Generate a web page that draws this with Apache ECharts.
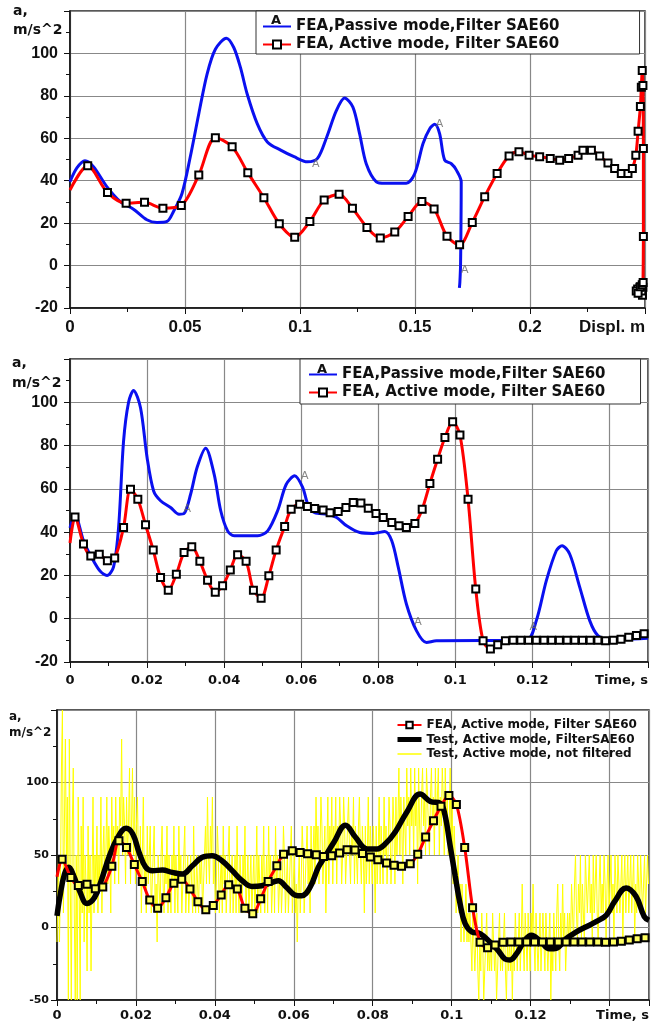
<!DOCTYPE html>
<html>
<head>
<meta charset="utf-8">
<script src="https://cdn.jsdelivr.net/npm/echarts@6/dist/echarts.min.js"></script>
<style>html,body{margin:0;padding:0;background:#fff}#c{width:652px;height:1023px}</style>
</head>
<body>
<div id="c"></div>
<script>
// ---------- Panel 1 : acceleration vs displacement ----------
const p1BlueD = [0,0.003,0.0065,0.0102,0.016,0.0218,0.0276,0.0334,0.0378,0.0422,0.045,0.0487,0.0523,0.056,0.0596,0.0632,0.068,0.0712,0.0741,0.077,0.0814,0.0858,0.0916,0.0974,0.1032,0.1076,0.1116,0.1158,0.1194,0.123,0.1259,0.1288,0.1332,0.137,0.1462,0.1499,0.1535,0.1564,0.1586,0.1607,0.1629,0.1658,0.168,0.1701,0.1700,0.1698,0.1695,0.1693];
const p1BlueA = [39.5,46,49.4,46.6,37.2,30.2,26.6,21.6,20.3,20.8,25.5,34,51.3,71.6,90.3,102,107.2,102.8,93.4,81,66.9,58.3,54.4,51.3,48.9,50.5,60.5,73,79,74.7,62.2,48,39.5,38.8,38.8,43.4,57.5,64.5,66.6,62.2,49.7,48,45,39.5,20,0,-8,-10.5];
const p1RedD = [0,0.0077,0.0163,0.0244,0.0324,0.0404,0.0484,0.056,0.0632,0.0705,0.0773,0.0843,0.091,0.0977,0.1043,0.1105,0.117,0.1228,0.1291,0.1349,0.1412,0.147,0.153,0.1583,0.1639,0.1694,0.1749,0.1803,0.1857,0.1909,0.1952,0.1996,0.2042,0.2088,0.2129,0.2168,0.2209,0.223,0.2267,0.2303,0.2339,0.2368,0.2397,0.2426,0.2445,0.246,0.247,0.248,0.2484,0.2488,0.2491,0.2493,0.2493,0.2491,0.2489,0.2486,0.2478,0.2468,0.2462,0.2470,0.2480,0.2488,0.2492];
const p1RedA = [35.6,47,34.4,29.4,29.8,27,28.3,42.7,60.3,56,43.8,32,19.7,13.3,20.8,30.9,33.6,27,18,13,15.8,23.1,30.2,26.7,13.8,9.8,20.3,32.5,43.4,51.7,53.6,52,51.3,50.5,49.7,50.5,52,54.4,54.4,51.6,48.4,45.8,43.4,43.4,45.8,52,63.3,75,84,91.9,84.9,55.2,13.7,-10.2,-14,-12,-10.2,-11,-12,-13,-10,-9,-8];
const p1MarkD = [0.1068,0.1607,0.1716];
const p1MarkA = [48,66.6,-2];

// ---------- Panel 2 / 3 : acceleration vs time ----------
const blueT = [0,0.0013,0.0035,0.0057,0.0078,0.0096,0.0113,0.0126,0.0139,0.0152,0.0165,0.0183,0.02,0.0217,0.0235,0.0261,0.0283,0.0296,0.0313,0.033,0.0352,0.0374,0.0391,0.0409,0.0426,0.0487,0.0513,0.0539,0.0561,0.0583,0.0604,0.0617,0.0635,0.0668,0.0692,0.0718,0.0752,0.0787,0.0817,0.0835,0.0852,0.0873,0.0899,0.0925,0.0951,0.1184,0.121,0.1236,0.1262,0.1277,0.1297,0.1323,0.1349,0.137,0.14,0.146,0.15];
const blueA = [42,48,36,28,22,20,24,42,82,100,105.5,97.5,74.5,59,54.5,51.4,48.3,48.6,57.5,70,78.8,66.8,50,40.6,38.3,38.3,40.6,50,62,66,60.6,53,49,48.3,46.8,42.9,39.8,39.4,40.3,36,23.7,6.8,-5.5,-11,-10.2,-10,-1,17.5,31.4,33.7,29.8,14.5,-1,-7.8,-10,-9.4,-9];
const redT = [0,0.0013,0.0035,0.0054,0.0076,0.0097,0.0116,0.0139,0.0157,0.0176,0.0196,0.0216,0.0235,0.0255,0.0276,0.0296,0.0316,0.0337,0.0357,0.0377,0.0396,0.0416,0.0435,0.0457,0.0476,0.0496,0.0516,0.0535,0.0557,0.0574,0.0596,0.0616,0.0635,0.0657,0.0675,0.0696,0.0716,0.0735,0.0755,0.0774,0.0794,0.0813,0.0835,0.0854,0.0873,0.0895,0.0914,0.0934,0.0954,0.0973,0.0993,0.1012,0.1033,0.1053,0.1072,0.1091,0.111,0.113,0.115,0.117,0.119,0.121,0.123,0.125,0.127,0.129,0.131,0.133,0.135,0.137,0.139,0.141,0.143,0.145,0.147,0.149];
const redA = [35,47,34.5,29,29.8,26.8,28,42.2,59.8,55.2,43.4,31.7,19,13.2,20.6,30.6,33.2,26.5,17.8,12.2,15.2,22.5,29.5,26.5,13.2,9.5,19.8,31.8,42.6,50.6,52.9,51.8,50.9,50.2,49,49.5,51.4,53.7,53.5,51,48.6,46.8,44.5,42.9,42.2,44,50.6,62.5,73.7,83.7,91,84.9,55.2,13.7,-10.2,-14,-12,-10.2,-10,-10,-10,-10,-10,-10,-10,-10,-10,-10,-10,-10,-10.2,-10,-9.5,-8.6,-7.8,-7];
const p2MarkT = [0.0304,0.0609,0.0903,0.1202];
const p2MarkA = [50.6,66,-1.7,-4];

const testT = [0,0.0007,0.0019,0.003,0.0042,0.0057,0.0076,0.0095,0.0112,0.0133,0.0154,0.0175,0.0192,0.0208,0.0225,0.0242,0.0267,0.0292,0.0318,0.0343,0.0368,0.0393,0.0418,0.0444,0.0469,0.0494,0.0519,0.0545,0.0561,0.0582,0.0603,0.062,0.0641,0.0662,0.0677,0.0702,0.0731,0.0756,0.0786,0.0811,0.0832,0.0857,0.0887,0.092,0.0946,0.0971,0.0983,0.0996,0.1009,0.1021,0.1034,0.1051,0.1072,0.1097,0.1118,0.1135,0.1148,0.1164,0.1185,0.1202,0.1223,0.1248,0.1265,0.129,0.1316,0.1341,0.1366,0.1392,0.1413,0.1442,0.1467,0.1488,0.15];
const testA = [8,20.7,36.9,41.5,35.7,25.3,16.6,20.7,32.3,49.5,62.2,68.4,64.5,51.8,41.5,39.2,39.6,38,36.9,42.6,48.4,49.5,46,39.2,32.3,28.3,28.8,31.1,32.3,27.6,22.4,21.9,27.6,41.5,48,58.9,70.6,62.4,54.2,54.2,57.7,65.9,79.9,92,86.9,85.7,77.6,56.5,35.5,16.8,2.8,-3,-4.2,-10,-15.9,-21.7,-22.4,-18.2,-8.9,-5.4,-8.9,-14.7,-14.3,-7.7,-3,0.5,4,8.6,18,27.3,21.5,7.5,5];
// unfiltered test signal, sampled every 0.00025 s (20 samples per row = 0.005 s)
const rawDt = 0.00025;
const rawA = [
-10,10,50,-10,30,110,150,10,70,130,50,90,-50,130,30,-50,70,110,10,-50,
50,-50,90,30,-50,70,10,90,-10,50,30,-30,70,10,50,-30,30,90,10,50,
30,70,10,50,30,90,10,50,70,30,50,90,30,70,50,10,90,50,70,30,
90,50,70,30,90,70,130,50,90,70,30,90,50,70,110,30,70,110,50,90,
30,70,90,50,30,70,10,50,90,30,50,10,70,30,50,70,10,30,50,70,
10,30,-10,50,30,10,50,70,30,10,50,30,70,10,50,30,10,50,30,70,
10,50,30,10,70,30,50,10,30,50,70,10,30,50,10,30,50,30,10,70,
30,10,50,30,10,50,30,50,10,30,50,70,30,90,50,30,70,50,90,30,
50,10,30,70,50,10,30,50,10,70,30,50,10,30,50,70,10,30,50,10,
30,50,10,70,30,10,50,30,10,50,30,70,10,30,50,10,30,50,10,30,
50,10,30,70,10,50,30,10,50,30,70,10,30,50,10,70,30,50,10,30,
50,10,70,30,50,10,30,50,10,30,70,50,10,30,50,10,30,50,70,10,
30,50,10,30,-10,30,50,10,30,70,50,10,30,50,70,30,50,10,70,30,
50,70,30,90,50,70,30,50,90,70,30,50,70,10,50,90,30,70,50,90,
30,70,50,90,30,70,50,90,70,30,50,90,70,30,50,70,90,50,30,70,
50,90,30,70,50,30,70,90,50,30,70,50,10,70,30,50,90,30,70,50,
30,70,50,10,70,30,50,90,30,70,50,30,90,50,70,30,50,90,70,30,
50,90,70,30,90,50,70,110,50,90,70,30,90,70,50,110,70,90,50,110,
70,90,50,110,70,90,30,110,70,50,90,110,70,90,50,110,90,70,50,90,
110,70,90,50,110,70,90,110,50,90,70,110,90,50,110,70,90,50,70,110,
50,90,30,70,50,10,30,50,10,30,-10,30,10,-10,10,30,-10,10,-10,10,
-10,-30,10,-10,-30,-10,10,-30,-50,-10,-30,10,-10,-50,-30,-10,10,-30,-10,-30,
-10,-30,10,-10,-30,-10,-50,-30,-10,10,-30,-10,-30,-10,10,-30,-50,-10,-30,-10,
-30,-10,-50,-10,-30,10,-10,-30,-10,10,-30,-10,30,-10,-30,10,-10,-30,10,-10,
-30,10,-10,30,-10,-30,10,-10,-30,-10,10,-30,-10,10,-10,-30,10,-10,-30,-10,
10,-50,-10,-30,10,-10,-30,10,30,-10,-30,10,-10,30,-10,10,-30,-10,10,-10,
10,-10,30,10,-10,30,50,10,-10,30,10,50,-10,30,10,-10,50,30,10,30,
50,10,30,-10,50,10,30,50,10,-10,30,50,10,30,10,50,30,-10,30,50,
10,30,50,10,30,-10,50,30,10,50,30,10,30,50,-10,30,50,10,30,50,
10,30,50,10,30,50,-10,30,10,50,30,10,50,30,10,30,50,10,30,50,
30];

const NAME_BLUE = 'FEA,Passive mode,Filter SAE60';
const NAME_RED = 'FEA, Active mode, Filter SAE60';
const NAME_TEST = 'Test, Active mode, FilterSAE60';
const NAME_RAW = 'Test, Active mode, not filtered';

const zip = (xs, ys) => xs.map((x, i) => [x, ys[i]]);
const noFirstSymbol = arr => arr.map((d, i) => i === 0 ? {value: d, symbol: 'none'} : d);
const rawData = rawA.map((a, i) => [+(i * rawDt).toFixed(5), a]);

const tickFont = {fontFamily: '"Liberation Sans", Arial, sans-serif', fontWeight: 'bold', fontSize: 16, color: '#111'};
const smallFont = {fontFamily: '"DejaVu Sans", sans-serif', fontWeight: 'bold', fontSize: 13, color: '#111'};
const near = (a, b) => Math.abs(a - b) < 1e-6;

function xAxisCfg(gi, max, interval, lastName, font, margin) {
  return {
    type: 'value', gridIndex: gi, min: 0, max: max, interval: interval,
    axisLine: {show: true, onZero: false, lineStyle: {color: '#111', width: 1.5}},
    axisTick: {show: true, length: 6, lineStyle: {color: '#111'}},
    minorTick: {show: true, splitNumber: 2, length: 4, lineStyle: {color: '#111'}},
    splitLine: {show: true, lineStyle: {color: '#888', width: 1.2}},
    axisLabel: Object.assign({}, font, {margin: margin, alignMaxLabel: 'right',
      formatter: v => near(v, max) ? lastName : (max < 0.2 && near(v, 0.14) ? '' : String(+v.toFixed(3)))})
  };
}
function yAxisCfg(gi, min, max, interval, font, margin) {
  return {
    type: 'value', gridIndex: gi, min: min, max: max, interval: interval,
    axisLine: {show: true, onZero: false, lineStyle: {color: '#111', width: 1.5}},
    axisTick: {show: true, length: 6, lineStyle: {color: '#111'}},
    minorTick: {show: true, splitNumber: 2, length: 4, lineStyle: {color: '#111'}},
    splitLine: {show: true, lineStyle: {color: '#888', width: 1.2}},
    axisLabel: Object.assign({}, font, {margin: margin, formatter: v => near(v, max) ? '' : String(v)})
  };
}

function redSeries(xi, fill, data) {
  return {name: NAME_RED, type: 'line', xAxisIndex: xi, yAxisIndex: xi, smooth: 0.3,
    symbol: 'rect', symbolSize: 7, showAllSymbol: true,
    lineStyle: {color: '#ff0000', width: 3},
    itemStyle: {color: fill, borderColor: '#000', borderWidth: 2}, data: noFirstSymbol(data), z: 4};
}
function blueSeries(xi, data) {
  return {name: NAME_BLUE, type: 'line', xAxisIndex: xi, yAxisIndex: xi, smooth: 0.3,
    symbol: 'none', lineStyle: {color: '#0a10f0', width: 3}, itemStyle: {color: '#0a10f0'}, data: data, z: 3};
}
function markSeries(xi, data) {
  return {type: 'scatter', xAxisIndex: xi, yAxisIndex: xi, symbolSize: 1, itemStyle: {color: 'rgba(0,0,0,0)'},
    label: {show: true, position: 'inside', formatter: 'A', fontSize: 11, color: '#666', fontFamily: 'DejaVu Sans'},
    data: data, z: 5};
}

const legendFont = {fontFamily: '"DejaVu Sans", sans-serif', fontWeight: 'bold', fontSize: 15, color: '#111'};
const hidden = {opacity: 0};

const option = {
  animation: false,
  backgroundColor: '#fff',
  grid: [
    {left: 70, top: 11, width: 575, height: 297, show: true, borderColor: '#222', borderWidth: 1.5},
    {left: 70, top: 359, width: 578, height: 303, show: true, borderColor: '#222', borderWidth: 1.5},
    {left: 57, top: 710, width: 595, height: 290, show: true, borderColor: '#222', borderWidth: 1.5}
  ],
  xAxis: [
    xAxisCfg(0, 0.25, 0.05, 'Displ. m', Object.assign({}, tickFont, {fontSize: 17}), 11),
    xAxisCfg(1, 0.15, 0.02, 'Time, s', smallFont, 12),
    xAxisCfg(2, 0.15, 0.02, 'Time, s', smallFont, 9)
  ],
  yAxis: [
    yAxisCfg(0, -20, 120, 20, tickFont, 12),
    yAxisCfg(1, -20, 120, 20, tickFont, 12),
    yAxisCfg(2, -50, 150, 50, Object.assign({}, smallFont, {fontSize: 11}), 8)
  ],
  legend: [
    {orient: 'vertical', left: 256, top: 11, itemWidth: 28, itemHeight: 10, itemGap: 3,
     padding: [8, 80, 2, 6], backgroundColor: '#fff', borderColor: '#333', borderWidth: 1,
     textStyle: legendFont, data: [{name: NAME_BLUE, itemStyle: hidden}, NAME_RED]},
    {orient: 'vertical', left: 300, top: 359, itemWidth: 28, itemHeight: 10, itemGap: 3,
     padding: [8, 35, 4, 8], backgroundColor: '#fff', borderColor: '#333', borderWidth: 1,
     textStyle: legendFont, data: [{name: NAME_BLUE, itemStyle: hidden}, NAME_RED]},
    {orient: 'vertical', left: 395, top: 719, itemWidth: 24, itemHeight: 8, itemGap: 2.5, padding: 0,
     textStyle: Object.assign({}, legendFont, {fontSize: 12}),
     data: [NAME_RED,
            {name: NAME_TEST, itemStyle: hidden, lineStyle: {width: 5, color: '#000'}},
            {name: NAME_RAW, itemStyle: hidden, lineStyle: {width: 1.5, color: '#ffff00'}}]}
  ],
  graphic: [
    {type: 'text', left: 13, top: 4, style: {text: 'a,', font: 'bold 14px "DejaVu Sans"', fill: '#111'}},
    {type: 'text', left: 13, top: 23, style: {text: 'm/s^2', font: 'bold 14px "DejaVu Sans"', fill: '#111'}},
    {type: 'text', left: 12, top: 356, style: {text: 'a,', font: 'bold 14px "DejaVu Sans"', fill: '#111'}},
    {type: 'text', left: 12, top: 376, style: {text: 'm/s^2', font: 'bold 14px "DejaVu Sans"', fill: '#111'}},
    {type: 'text', left: 9, top: 711, style: {text: 'a,', font: 'bold 12px "DejaVu Sans"', fill: '#111'}},
    {type: 'text', left: 9, top: 727, style: {text: 'm/s^2', font: 'bold 12px "DejaVu Sans"', fill: '#111'}},
    {type: 'text', x: 276, y: 27, z: 100, style: {text: 'A', font: 'bold 13px "DejaVu Sans"', fill: '#111', align: 'center', verticalAlign: 'bottom'}},
    {type: 'text', x: 322, y: 376, z: 100, style: {text: 'A', font: 'bold 13px "DejaVu Sans"', fill: '#111', align: 'center', verticalAlign: 'bottom'}}
  ],
  series: [
    blueSeries(0, zip(p1BlueD, p1BlueA)),
    redSeries(0, '#ffffff', zip(p1RedD, p1RedA)),
    markSeries(0, zip(p1MarkD, p1MarkA)),
    blueSeries(1, zip(blueT, blueA)),
    redSeries(1, '#ffffff', zip(redT, redA)),
    markSeries(1, zip(p2MarkT, p2MarkA)),
    {name: NAME_RAW, type: 'line', xAxisIndex: 2, yAxisIndex: 2, step: 'middle', symbol: 'none',
     lineStyle: {color: '#ffff00', width: 1}, itemStyle: {color: '#ffff00'}, data: rawData, z: 1},
    {name: NAME_TEST, type: 'line', xAxisIndex: 2, yAxisIndex: 2, smooth: 0.4, symbol: 'none',
     lineStyle: {color: '#000', width: 5.5}, itemStyle: {color: '#000'}, data: zip(testT, testA), z: 2},
    redSeries(2, '#ffff60', zip(redT, redA))
  ]
};
const chart = echarts.init(document.getElementById('c'), null, {renderer: 'canvas', width: 652, height: 1023});
chart.setOption(option);
</script>
</body>
</html>
